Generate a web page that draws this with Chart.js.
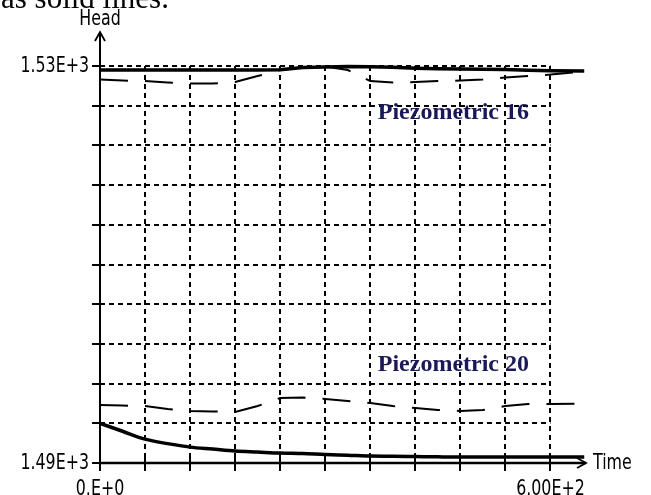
<!DOCTYPE html>
<html>
<head>
<meta charset="utf-8">
<script src="https://cdn.jsdelivr.net/npm/chart.js@4/dist/chart.umd.min.js"></script>
<style>
  html, body { margin: 0; padding: 0; background: #fff; }
  #wrap { position: relative; width: 651px; height: 495px; }
</style>
</head>
<body>
<div id="wrap"><canvas id="headChart" width="651" height="495"></canvas></div>
<script>
// time axis samples (shared by every curve)
var timeValues = [0, 30, 60, 90, 120, 150, 180, 210, 240, 270, 300, 330, 360, 390, 420, 450, 480, 510, 540, 570, 600, 645];

// piezometric 16
var p16Solid  = [1529.6, 1529.6, 1529.6, 1529.6, 1529.6, 1529.6, 1529.6, 1529.6, 1529.62, 1529.85, 1529.9, 1529.95, 1529.92, 1529.88, 1529.78, 1529.72, 1529.7, 1529.68, 1529.65, 1529.57, 1529.52, 1529.5];
var p16Dashed = [1528.64, 1528.54, 1528.49, 1528.34, 1528.24, 1528.24, 1528.39, 1528.99, 1529.6, 1529.85, 1529.95, 1529.6, 1528.49, 1528.34, 1528.39, 1528.49, 1528.54, 1528.64, 1528.84, 1528.99, 1529.14, 1529.45];

// piezometric 20
var p20Dashed = [1495.84, 1495.79, 1495.74, 1495.44, 1495.24, 1495.19, 1495.14, 1495.74, 1496.55, 1496.6, 1496.45, 1496.25, 1496.05, 1495.74, 1495.54, 1495.34, 1495.24, 1495.34, 1495.74, 1495.94, 1495.94, 1495.99];
var p20Solid  = [1494.0, 1493.2, 1492.4, 1491.95, 1491.6, 1491.4, 1491.2, 1491.1, 1491.0, 1490.95, 1490.85, 1490.78, 1490.7, 1490.68, 1490.65, 1490.62, 1490.6, 1490.6, 1490.6, 1490.6, 1490.6, 1490.6];

// ticks and their labels
var timeTicks = [0, 60, 120, 180, 240, 300, 360, 420, 480, 540, 600];
var headTicks = [1490, 1494, 1498, 1502, 1506, 1510, 1514, 1518, 1522, 1526, 1530];
var timeTickLabels = { 0: '0.E+0', 600: '6.00E+2' };
var headTickLabels = { 1490: '1.49E+3', 1530: '1.53E+3' };

var seriesLabels = [
  { text: 'Piezometric 16', time: 370, head: 1525.3 },
  { text: 'Piezometric 20', time: 370, head: 1499.9 }
];

function toPoints(values) {
  return values.map(function (v, i) { return { x: timeValues[i], y: v }; });
}

var axisFont = '22px "DejaVu Sans Condensed", "DejaVu Sans", sans-serif';
var squeeze = 0.8;

// narrow text: the axis font is squeezed sideways
function narrowText(ctx, text, x, y) {
  ctx.save();
  ctx.translate(x, y);
  ctx.scale(squeeze, 1);
  ctx.fillText(text, 0, 0);
  ctx.restore();
}

// draws dotted grid, axes with arrows, ticks and the text
var graphDecor = {
  id: 'graphDecor',
  beforeDatasetsDraw: function (chart) {
    var ctx = chart.ctx;
    var xs = chart.scales.x, ys = chart.scales.y;
    var x0 = xs.getPixelForValue(0), x1 = xs.getPixelForValue(600);
    var y0 = ys.getPixelForValue(1490), y1 = ys.getPixelForValue(1530);
    ctx.save();
    ctx.strokeStyle = '#000';
    ctx.lineWidth = 2;
    ctx.setLineDash([5, 4]);
    timeTicks.forEach(function (t) {
      if (t === 0) return;
      var px = Math.round(xs.getPixelForValue(t));
      ctx.beginPath();
      ctx.moveTo(px, y1);
      ctx.lineTo(px, y0);
      ctx.stroke();
    });
    headTicks.forEach(function (h) {
      if (h === 1490) return;
      var py = Math.round(ys.getPixelForValue(h));
      ctx.beginPath();
      ctx.moveTo(x0, py);
      ctx.lineTo(x1, py);
      ctx.stroke();
    });
    ctx.restore();
  },
  afterDraw: function (chart) {
    var ctx = chart.ctx;
    var area = chart.chartArea;
    var xs = chart.scales.x, ys = chart.scales.y;
    var ax = Math.round(xs.getPixelForValue(0));
    var ay = Math.round(ys.getPixelForValue(1490));
    ctx.save();
    ctx.strokeStyle = '#000';
    ctx.setLineDash([]);

    // axes
    ctx.lineWidth = 2;
    ctx.beginPath();
    ctx.moveTo(ax, ay + 2);
    ctx.lineTo(ax, area.top);
    ctx.stroke();
    ctx.lineWidth = 2.5;
    ctx.beginPath();
    ctx.moveTo(ax, ay);
    ctx.lineTo(area.right - 2, ay);
    ctx.stroke();

    // arrow heads
    ctx.lineWidth = 1.8;
    ctx.beginPath();
    ctx.moveTo(ax - 5, area.top + 9);
    ctx.lineTo(ax, area.top);
    ctx.lineTo(ax + 5, area.top + 9);
    ctx.stroke();
    ctx.beginPath();
    ctx.moveTo(area.right - 11, ay - 5);
    ctx.lineTo(area.right - 2, ay);
    ctx.lineTo(area.right - 11, ay + 5);
    ctx.stroke();

    // tick marks
    ctx.lineWidth = 2;
    headTicks.forEach(function (h) {
      var py = Math.round(ys.getPixelForValue(h));
      ctx.beginPath();
      ctx.moveTo(ax - 8, py);
      ctx.lineTo(ax + 5, py);
      ctx.stroke();
    });
    timeTicks.forEach(function (t) {
      var px = Math.round(xs.getPixelForValue(t));
      ctx.beginPath();
      ctx.moveTo(px, ay - 5);
      ctx.lineTo(px, ay + 8);
      ctx.stroke();
    });

    // tick labels and axis titles
    ctx.fillStyle = '#000';
    ctx.font = axisFont;
    ctx.textBaseline = 'middle';
    ctx.textAlign = 'right';
    Object.keys(headTickLabels).forEach(function (h) {
      narrowText(ctx, headTickLabels[h], ax - 11, ys.getPixelForValue(+h));
    });
    ctx.textAlign = 'center';
    ctx.textBaseline = 'top';
    Object.keys(timeTickLabels).forEach(function (t) {
      narrowText(ctx, timeTickLabels[t], xs.getPixelForValue(+t), ay + 15);
    });
    ctx.textBaseline = 'alphabetic';
    narrowText(ctx, 'Head', ax, 25);
    ctx.textAlign = 'left';
    ctx.textBaseline = 'middle';
    narrowText(ctx, 'Time', area.right + 5, ay);

    // series names
    ctx.fillStyle = '#1a1858';
    ctx.font = 'bold 24px "Liberation Serif", "Times New Roman", serif';
    seriesLabels.forEach(function (s) {
      ctx.fillText(s.text, xs.getPixelForValue(s.time), ys.getPixelForValue(s.head));
    });

    // caption tail running above the figure
    ctx.fillStyle = '#000';
    ctx.font = '31px "Liberation Serif", "Times New Roman", serif';
    ctx.textBaseline = 'alphabetic';
    ctx.fillText('as solid lines.', 1, 8);
    ctx.restore();
  }
};

var headCtx = document.getElementById('headChart').getContext('2d');

var headChart = new Chart(headCtx, {
  type: 'line',
  data: {
    datasets: [
      {
        label: 'Piezometric 16 (solid)',
        data: toPoints(p16Solid),
        borderColor: '#000',
        borderWidth: 3.5,
        pointRadius: 0,
        tension: 0
      },
      {
        label: 'Piezometric 16 (dashed)',
        data: toPoints(p16Dashed),
        borderColor: '#000',
        borderWidth: 2,
        borderDash: [28, 17],
        pointRadius: 0,
        tension: 0
      },
      {
        label: 'Piezometric 20 (dashed)',
        data: toPoints(p20Dashed),
        borderColor: '#000',
        borderWidth: 2,
        borderDash: [28, 17],
        pointRadius: 0,
        tension: 0
      },
      {
        label: 'Piezometric 20 (solid)',
        data: toPoints(p20Solid),
        borderColor: '#000',
        borderWidth: 3.5,
        pointRadius: 0,
        cubicInterpolationMode: 'monotone'
      }
    ]
  },
  options: {
    responsive: false,
    animation: false,
    layout: {
      padding: { left: 100, right: 63, top: 32, bottom: 32 }
    },
    plugins: {
      legend: { display: false },
      tooltip: { enabled: false }
    },
    scales: {
      x: {
        type: 'linear',
        display: false,
        min: 0,
        max: 650
      },
      y: {
        type: 'linear',
        display: false,
        min: 1490,
        max: 1533.43
      }
    }
  },
  plugins: [graphDecor]
});
</script>
</body>
</html>
